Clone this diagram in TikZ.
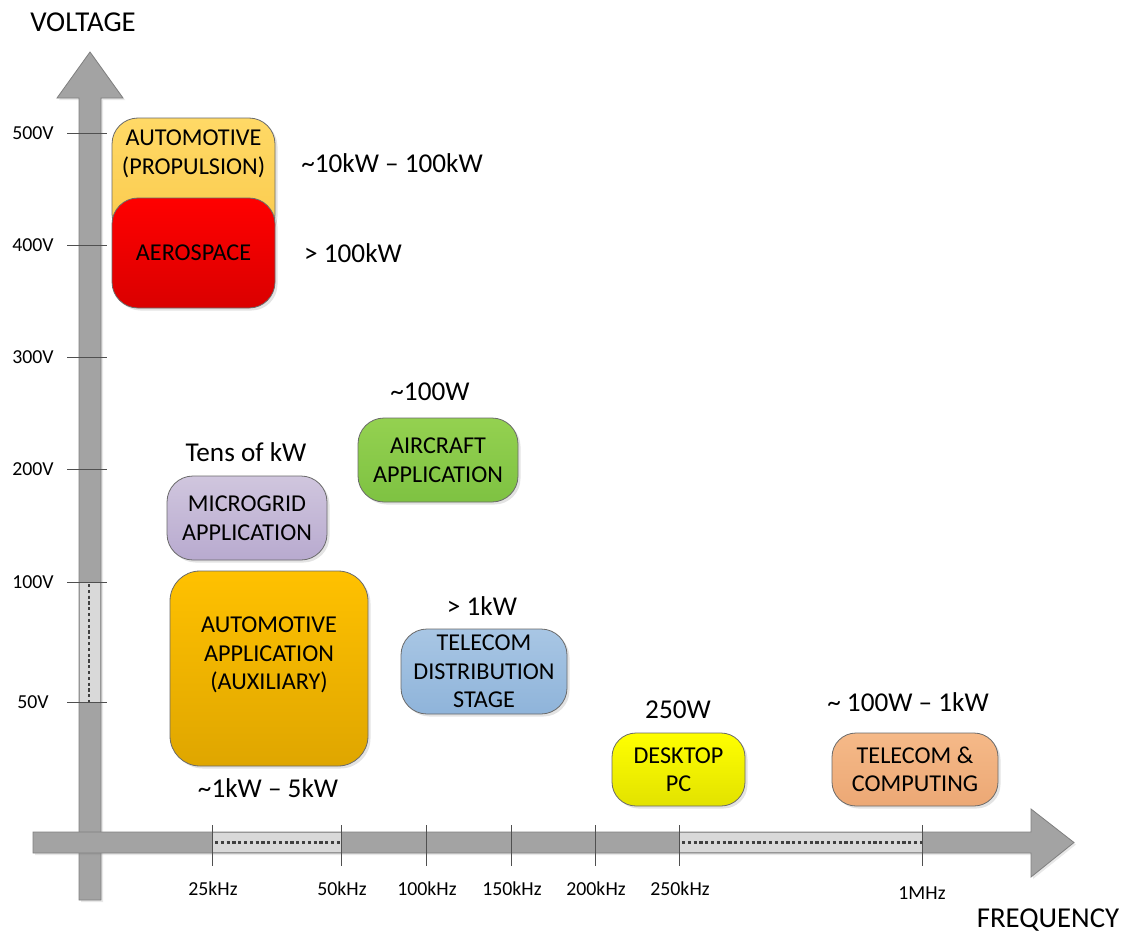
\documentclass[tikz,border=0pt]{standalone}
\usepackage{fontspec}
\setmainfont{Carlito}
\usetikzlibrary{shadows}

\definecolor{shaftfill}{HTML}{A3A3A3}
\definecolor{shaftedge}{HTML}{7F7F7F}
\definecolor{bandfill}{HTML}{D9D9D9}
\definecolor{tickcol}{HTML}{505050}
\definecolor{dotcol}{HTML}{404040}
\definecolor{boxedge}{HTML}{6A6A6A}

\begin{document}
\begin{tikzpicture}[x=1pt,y=-1pt,
  shaft/.style={fill=shaftfill,draw=shaftedge,line width=0.8pt,
    drop shadow={shadow xshift=2pt,shadow yshift=-2pt,opacity=0.18}},
  band/.style={fill=bandfill,draw=none},
  dotline/.style={draw=dotcol,line width=2.3pt,dash pattern=on 3.2pt off 2.6pt},
  tickline/.style={draw=tickcol,line width=0.7pt},
  box/.style={draw=boxedge,line width=0.8pt,rounded corners=26pt,align=center,
    inner sep=0pt,font=\fontsize{24.2}{28.5}\selectfont,
    drop shadow={shadow xshift=2.5pt,shadow yshift=-2.5pt,opacity=0.22}},
  boxtext/.style={align=center,inner sep=0pt,font=\fontsize{24.2}{28.5}\selectfont},
  power/.style={inner sep=0pt,font=\fontsize{27.2}{30}\selectfont},
  ticklabel/.style={inner sep=0pt,font=\fontsize{19.8}{22}\selectfont},
  axislabel/.style={inner sep=0pt,font=\fontsize{28.8}{32}\selectfont}]
\useasboundingbox (0,0) rectangle (1124,934);

% vertical (voltage) axis arrow
\path[shaft] (79,900) -- (79,98) -- (57,98) -- (90,52) -- (123,98) -- (101,98) -- (101,900) -- cycle;
\fill[band] (79.6,582) rectangle (100.4,702);
\draw[dotline] (89,584) -- (89,702);

% horizontal (frequency) axis arrow
\path[shaft] (33,832) -- (1031,832) -- (1031,809) -- (1074,842.5) -- (1031,877) -- (1031,853) -- (33,853) -- cycle;
\fill[band] (212,832.6) rectangle (341,852.4);
\fill[band] (679,832.6) rectangle (922,852.4);
\draw[dotline] (215,842.5) -- (341,842.5);
\draw[dotline] (682,842.5) -- (922,842.5);

% voltage ticks
\foreach \yy/\lab in {133/500V,245/400V,357/300V,469/200V,582/100V,702/50V}{
  \draw[tickline] (67,\yy) -- (107,\yy);
  \node[ticklabel] at (33,\yy) {\lab};
}

% frequency ticks
\foreach \xx/\lab in {212/25kHz,341/50kHz,426/100kHz,511/150kHz,595/200kHz,679/250kHz}{
  \draw[tickline] (\xx,825) -- (\xx,866);
  \node[ticklabel] at (\xx+1,889) {\lab};
}
\draw[tickline] (922,825) -- (922,866);
\node[ticklabel] at (922,893) {1MHz};

% axis titles
\node[axislabel] (vlab) at (83,22) {VOLTAGE};
\node[axislabel] (flab) at (1048,920) {FREQUENCY};

% application boxes
\node[box,top color={rgb,255:red,255;green,217;blue,102},bottom color={rgb,255:red,250;green,202;blue,76},
  minimum width=163pt,minimum height=122pt] (prop) at (193.5,179) {};
\node[boxtext] (proptext) at (193.5,154) {AUTOMOTIVE\\(PROPULSION)};
\node[box,top color={rgb,255:red,255;green,0;blue,0},bottom color={rgb,255:red,218;green,0;blue,0},
  minimum width=163pt,minimum height=110pt] (aero) at (193.5,253) {AEROSPACE};

\node[box,top color={rgb,255:red,148;green,209;blue,80},bottom color={rgb,255:red,126;green,194;blue,66},
  minimum width=160pt,minimum height=84pt] (aircraft) at (438,460) {AIRCRAFT\\APPLICATION};

\node[box,top color={rgb,255:red,208;green,198;blue,222},bottom color={rgb,255:red,184;green,170;blue,207},
  minimum width=160pt,minimum height=84pt] (micro) at (247,518) {MICROGRID\\APPLICATION};

\node[box,rounded corners=30pt,top color={rgb,255:red,255;green,193;blue,0},bottom color={rgb,255:red,223;green,166;blue,0},
  minimum width=198pt,minimum height=195pt] (aux) at (269,668.5) {};
\node[boxtext] (auxtext) at (269,655) {AUTOMOTIVE\\APPLICATION\\(AUXILIARY)};

\node[box,top color={rgb,255:red,168;green,198;blue,228},bottom color={rgb,255:red,143;green,180;blue,218},
  minimum width=166pt,minimum height=85pt] (teldist) at (484,671.5) {TELECOM\\DISTRIBUTION\\STAGE};

\node[box,rounded corners=24pt,top color={rgb,255:red,255;green,255;blue,0},bottom color={rgb,255:red,226;green,226;blue,0},
  minimum width=133pt,minimum height=73pt] (desktop) at (678.5,769.5) {DESKTOP\\PC};

\node[box,rounded corners=24pt,top color={rgb,255:red,245;green,185;blue,136},bottom color={rgb,255:red,236;green,168;blue,117},
  minimum width=166pt,minimum height=73pt] (telcomp) at (915,769.5) {TELECOM \&\\COMPUTING};

% power ratings
\node[power] (pprop) at (392,163) {\textasciitilde10kW – 100kW};
\node[power] (paero) at (353,253) {> 100kW};
\node[power] (paircraft) at (430,392) {\textasciitilde100W};
\node[power] (pmicro) at (246,452) {Tens of kW};
\node[power] (paux) at (268,788) {\textasciitilde1kW – 5kW};
\node[power] (pteldist) at (482,606) {> 1kW};
\node[power] (pdesktop) at (678,710) {250W};
\node[power] (ptelcomp) at (908,702) {\textasciitilde\ 100W – 1kW};
\end{tikzpicture}
\end{document}
